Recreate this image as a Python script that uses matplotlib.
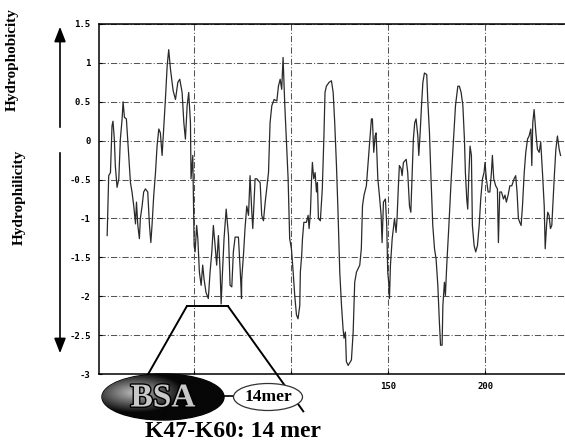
import numpy as np
import matplotlib
matplotlib.use("Agg")
import matplotlib.pyplot as plt
from matplotlib.patches import Ellipse
import matplotlib.patheffects as pe

# hydropathy profile (residue, score)
residue = [5.2, 6.0, 6.9, 7.7, 8.2, 8.9, 9.4, 10.3, 11.2, 12.0, 12.9, 13.4, 14.1, 15.1,
           16.3, 17.2, 18.0, 18.9, 19.8, 20.3, 21.0, 21.8, 22.3, 23.2, 24.0, 24.9, 26.1,
           27.0, 27.7, 28.3, 29.2, 30.1, 30.9, 31.8, 32.6, 33.5, 34.4, 35.2, 36.1, 36.9,
           37.8, 39.2, 40.4, 41.6, 42.6, 43.8, 44.7, 45.5, 46.4, 47.2, 48.1, 48.4, 49.3,
           50.0, 50.5, 51.3, 51.9, 52.7, 53.6, 54.4, 55.1, 56.1, 57.3, 58.2, 59.1, 59.9,
           60.8, 61.6, 62.5, 63.4, 63.9, 64.6, 65.4, 66.5, 67.7, 68.5, 69.4, 70.2, 71.1,
           72.8, 73.7, 74.4, 74.5, 75.4, 76.2, 77.1, 78.0, 78.8, 79.7, 80.2, 81.4, 82.3,
           84.0, 84.8, 85.7, 86.6, 88.3, 89.1, 90.0, 91.2, 92.6, 93.4, 94.3, 95.1, 95.8,
           96.7, 97.5, 98.4, 99.2, 100.1, 101.0, 101.8, 102.7, 103.5, 104.4, 104.7, 105.4,
           105.8, 106.5, 107.8, 108.7, 109.2, 109.9, 110.4, 110.9, 111.6, 112.3, 113.0,
           113.5, 114.0, 115.0, 116.0, 116.8, 117.4, 118.1, 119.5, 120.7, 121.6, 122.4,
           123.3, 124.1, 125.0, 125.9, 126.7, 127.2, 127.9, 128.4, 129.3, 131.0, 131.9,
           132.7, 133.6, 135.3, 136.1, 136.7, 137.5, 138.7, 139.6, 140.5, 141.3, 141.8,
           142.5, 143.2, 143.7, 144.6, 145.4, 146.3, 146.8, 147.5, 148.5, 149.2, 149.7,
           150.2, 150.6, 151.1, 152.0, 153.2, 154.0, 154.5, 155.2, 155.7, 156.6, 157.1,
           157.8, 159.2, 160.0, 160.9, 161.6, 162.3, 162.9, 163.6, 164.3, 165.2, 165.7,
           166.4, 167.1, 167.8, 168.6, 169.8, 170.3, 171.2, 172.0, 172.9, 173.8, 174.6,
           175.5, 176.3, 176.9, 177.7, 178.1, 178.9, 179.4, 180.1, 181.2, 182.4, 183.6,
           184.6, 185.8, 186.6, 187.5, 188.4, 189.2, 189.7, 190.4, 190.9, 191.4, 192.1,
           192.8, 193.3, 194.2, 195.0, 195.9, 196.8, 197.6, 198.5, 199.3, 199.8, 200.5,
           201.4, 202.3, 203.1, 203.6, 204.3, 205.3, 206.2, 206.7, 207.4, 208.3, 209.3,
           210.1, 210.8, 211.7, 212.6, 213.6, 214.8, 215.6, 216.3, 217.0, 217.7, 218.4,
           219.1, 220.0, 220.8, 221.7, 222.5, 223.4, 223.9, 224.4, 225.1, 226.0, 226.8,
           227.7, 228.5, 229.4, 230.3, 230.8, 231.5, 232.1, 232.8, 233.5, 234.2, 234.9,
           235.6, 236.3, 237.1, 238.0, 238.7]
score = [-1.22, -0.45, -0.41, 0.19, 0.25, 0.02, -0.32, -0.60, -0.49, 0.02, 0.28, 0.50, 0.30,
         0.28, -0.19, -0.54, -0.66, -0.84, -1.07, -0.79, -1.09, -1.26, -1.00, -0.84, -0.66,
         -0.62, -0.66, -1.09, -1.31, -1.09, -0.70, -0.41, -0.07, 0.15, 0.10, -0.19, 0.19,
         0.53, 0.96, 1.17, 0.92, 0.64, 0.53, 0.75, 0.79, 0.62, 0.23, 0.02, 0.45, 0.62,
         0.23, -0.49, -0.19, -1.35, -1.43, -1.09, -1.26, -1.69, -1.86, -1.60, -1.78, -1.95,
         -2.03, -1.69, -1.43, -1.09, -1.35, -1.60, -1.22, -1.69, -2.10, -1.69, -1.26, -0.88,
         -1.22, -1.86, -1.88, -1.43, -1.24, -1.24, -1.65, -2.03, -1.78, -1.47, -1.13, -0.84,
         -0.96, -0.45, -0.92, -1.13, -0.49, -0.49, -0.54, -0.96, -1.03, -0.79, -0.41, 0.23,
         0.45, 0.53, 0.51, 0.70, 0.79, 0.66, 1.07, 0.45, 0.02, -0.49, -1.26, -1.39, -1.69,
         -1.99, -2.24, -2.29, -2.12, -1.69, -1.47, -1.26, -1.05, -1.05, -0.96, -1.13, -0.92,
         -0.54, -0.28, -0.49, -0.41, -0.66, -0.54, -1.00, -1.03, -0.62, 0.02, 0.62, 0.70,
         0.75, 0.77, 0.62, 0.23, -0.32, -0.92, -1.69, -2.12, -2.42, -2.54, -2.46, -2.84,
         -2.89, -2.82, -2.46, -1.82, -1.69, -1.60, -1.39, -0.84, -0.70, -0.58, -0.28, 0.02,
         0.28, 0.28, -0.15, 0.06, 0.10, -0.49, -0.70, -0.96, -1.31, -0.79, -0.75, -1.09,
         -1.69, -1.82, -2.03, -1.60, -1.26, -1.00, -1.18, -1.00, -0.58, -0.32, -0.36, -0.45,
         -0.28, -0.24, -0.41, -0.84, -0.92, -0.41, 0.02, 0.23, 0.28, 0.06, -0.19, 0.10,
         0.45, 0.75, 0.87, 0.85, 0.53, 0.10, -0.49, -1.09, -1.39, -1.52, -1.86, -2.33,
         -2.63, -2.63, -2.12, -1.82, -1.99, -1.60, -1.09, -0.49, 0.02, 0.45, 0.70, 0.70,
         0.62, 0.45, 0.02, -0.41, -0.75, -0.88, -0.49, -0.07, -0.19, -1.09, -1.35, -1.43,
         -1.35, -1.09, -0.75, -0.49, -0.41, -0.28, -0.49, -0.66, -0.66, -0.41, -0.19, -0.49,
         -0.58, -0.62, -1.31, -0.66, -0.66, -0.75, -0.70, -0.79, -0.70, -0.58, -0.58, -0.49,
         -0.45, -0.66, -1.00, -1.05, -1.09, -0.84, -0.41, -0.15, 0.02, 0.06, 0.15, -0.32,
         0.23, 0.40, 0.10, -0.11, -0.15, -0.02, -0.41, -0.84, -1.39, -1.09, -0.92, -0.96,
         -1.13, -1.09, -0.75, -0.41, -0.11, 0.06, -0.11, -0.19]

ytick_vals = [1.5, 1, 0.5, 0, -0.5, -1, -1.5, -2, -2.5, -3]
ytick_labels = ['1.5', '1', '0.5', '0', '-0.5', '-1', '-1.5', '-2', '-2.5', '-3']
xtick_vals = [50, 100, 150, 200]
xtick_labels = ['', '', '150', '200']   # 50 and 100 sit under the BSA sketch

# K47-K60 bracket on the plot (residue range of the top edge, score level)
peptide_top = [46.2, 67.5]
peptide_level = -2.13

fig = plt.figure(figsize=(5.65, 4.44), dpi=100)
ax = fig.add_axes([99/565, 70/444, 466/565, 350/444])

ax.plot(residue, score, color='#2a2a2a', lw=0.9, zorder=3)
ax.set_xlim(1, 241)
ax.set_ylim(-3, 1.5)

ax.set_yticks(ytick_vals)
ax.set_yticklabels(ytick_labels, family='DejaVu Sans Mono', fontsize=6.5, fontweight='bold')
ax.set_xticks(xtick_vals)
ax.set_xticklabels(xtick_labels, family='DejaVu Sans Mono', fontsize=6.5, fontweight='bold')
ax.tick_params(length=2, width=0.8, direction='in', pad=6)
ax.grid(True, color='#555555', lw=0.75, linestyle=(0, (6, 2, 1, 2)))
ax.spines['right'].set_visible(False)
for s in ['left', 'top', 'bottom']:
    ax.spines[s].set_linewidth(1.1)

# trapezoid from the peptide region down to the BSA sketch
ax.plot(peptide_top, [peptide_level, peptide_level], color='black', lw=1.4, clip_on=False, zorder=4)
ax.plot([peptide_top[0], 22.0], [peptide_level, -3.19], color='black', lw=1.4, clip_on=False, zorder=4)
ax.plot([peptide_top[1], 106.2], [peptide_level, -3.48], color='black', lw=1.4, clip_on=False, zorder=4)

# overlay in pixel units for the labels and the sketch
ov = fig.add_axes([0, 0, 1, 1], zorder=5)
ov.set_xlim(0, 565)
ov.set_ylim(444, 0)
ov.axis('off')
ov.patch.set_alpha(0)

ov.annotate('', xy=(60, 24), xytext=(60, 130),
            arrowprops=dict(arrowstyle='-|>,head_length=0.9,head_width=0.35', color='black', lw=1.2))
ov.annotate('', xy=(60, 356), xytext=(60, 150),
            arrowprops=dict(arrowstyle='-|>,head_length=0.9,head_width=0.35', color='black', lw=1.2))
ov.text(12, 60, 'Hydrophobicity', rotation=90, ha='center', va='center',
        family='Liberation Serif', fontweight='bold', fontsize=11)
ov.text(19, 197, 'Hydrophilicity', rotation=90, ha='center', va='center',
        family='Liberation Serif', fontweight='bold', fontsize=11)

# BSA ellipse with a grey highlight
bsa = Ellipse((163, 397), 122, 46, facecolor='none', edgecolor='black', lw=1.0)
ov.add_patch(bsa)
gx, gy = np.meshgrid(np.linspace(102, 224, 200), np.linspace(374, 420, 80))
d = np.sqrt(((gx - 135) / 55) ** 2 + ((gy - 393) / 22) ** 2)
shade = np.clip(0.75 - 0.8 * d, 0.03, 1)
img = ov.imshow(shade, cmap='gray', vmin=0, vmax=1, extent=(102, 224, 420, 374),
                aspect='auto', zorder=6, interpolation='bilinear')
img.set_clip_path(bsa)
ov.text(163, 398, 'BSA', ha='center', va='center', family='Liberation Serif',
        fontweight='bold', fontsize=24, color='#c8c8c8', zorder=7,
        path_effects=[pe.withStroke(linewidth=2, foreground='black')])

ov.plot([223, 234], [396, 396], color='black', lw=1.2, zorder=6)
ov.add_patch(Ellipse((268, 397), 69, 27, facecolor='white', edgecolor='#333333',
                     lw=0.9, zorder=6))
ov.text(268, 397, '14mer', ha='center', va='center', family='Liberation Serif',
        fontweight='bold', fontsize=12.5, zorder=7)

ov.text(233, 431, 'K47-K60: 14 mer', ha='center', va='center', family='Liberation Serif',
        fontweight='bold', fontsize=17)

fig.savefig('out.png', dpi=100)
